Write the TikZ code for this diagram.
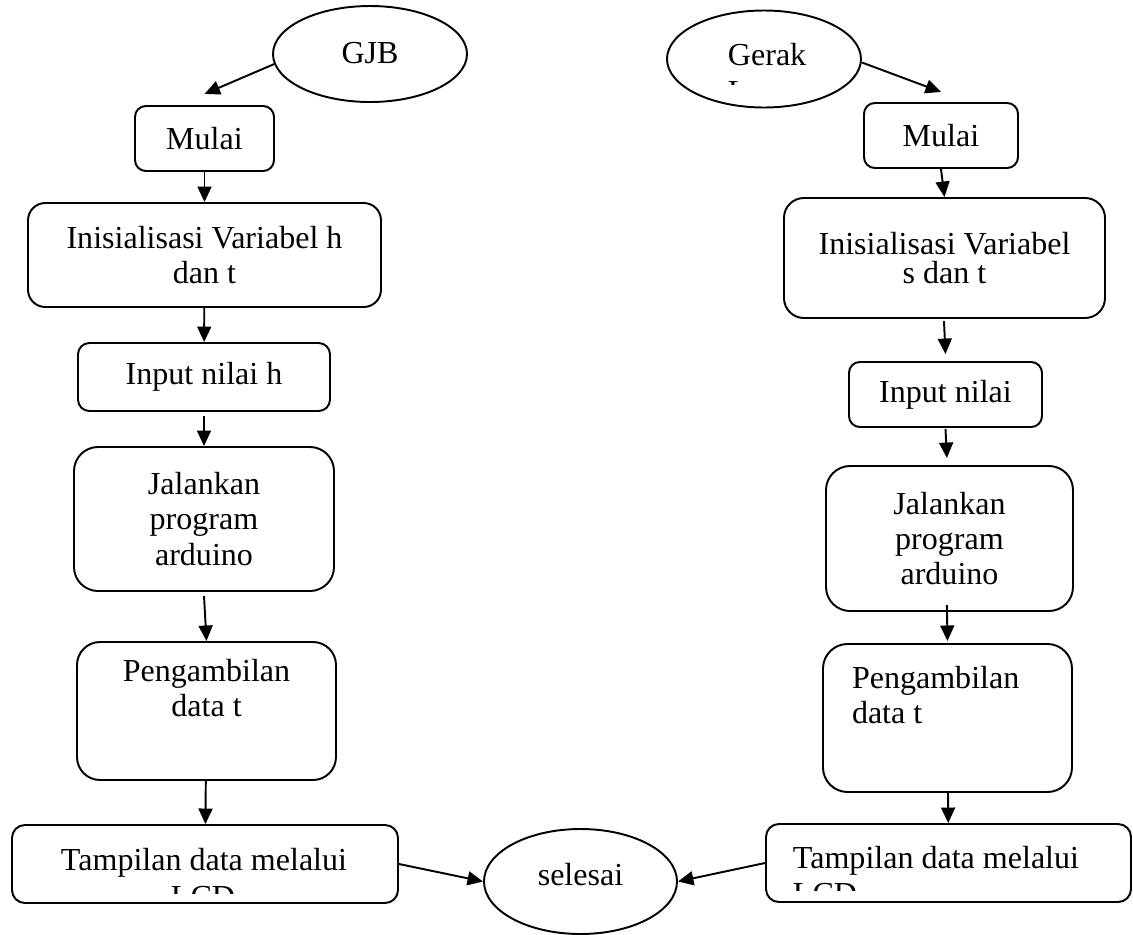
\documentclass[tikz,border=0pt]{standalone}
\usepackage{fontspec}
\setmainfont{Liberation Serif}
\usetikzlibrary{shapes.geometric, arrows.meta, positioning}

\newcommand{\pxu}{0.387pt}

\begin{document}
\begin{tikzpicture}[
    x=\pxu, y=-\pxu,
    font=\fontsize{12.4}{13.6}\selectfont,
    line width=0.75pt,
    boxsize/.style 2 args={minimum width=#1*\pxu, minimum height=#2*\pxu},
    proses/.style={draw, rectangle, rounded corners=#1, inner sep=0pt, align=center},
    proses/.default=4.2pt,
    terminal/.style={draw, ellipse, inner sep=0pt},
    teks/.style={inner sep=0pt, anchor=base west},
    arrow/.style={-{Triangle[length=6pt, width=5.4pt]}}
]
\useasboundingbox (0,0) rectangle (1133,935);

% left chart (GJB)
\node (gjb) [terminal, boxsize={194}{96}, text height=8pt, text depth=1pt] at (370,54) {GJB};
\node (mulaiL) [proses, boxsize={139}{65}] at (204.5,138.5) {Mulai};
\node (initL) [proses=6.7pt, boxsize={353}{104}] at (204.5,255) {Inisialisasi Variabel h\\dan t};
\node (inputL) [proses=4.4pt, boxsize={252}{68}] at (204,377) {Input nilai h};
\node (jalanL) [proses=9.3pt, boxsize={260}{144}] at (204,519) {Jalankan\\program\\arduino};
\node (ambilL) [proses=8.9pt, boxsize={259}{138}] at (206.5,711) {Pengambilan\\data t\\\strut};
\node (tampilL) [proses=5pt, boxsize={386}{78}] at (205,864) {};
\node (tampilLtxt) [teks, anchor=base] at (204,870) {Tampilan data melalui};
\begin{scope}
  \clip (20,830) rectangle (390,893);
  \node (lcdL) [teks, anchor=base] at (203,907.5) {LCD};
\end{scope}

% right chart (gerak)
\node (gerak) [terminal, boxsize={194}{97}] at (764,59) {};
\node (gerakTxt) [teks] at (727,65) {Gerak};
\begin{scope}
  \clip (700,20) rectangle (840,84.5);
  \node (lurusTxt) [teks] at (727,102.5) {Lurus};
\end{scope}
\node (mulaiR) [proses, boxsize={154}{65}] at (941,135.5) {Mulai};
\node (initR) [proses=7.7pt, boxsize={321}{120}, font=\fontsize{12.4}{11.2}\selectfont] at (944.5,258) {Inisialisasi Variabel\\s dan t};
\node (inputR) [proses, boxsize={193}{65}] at (945.5,394.5) {Input nilai};
\node (jalanR) [proses=9.3pt, boxsize={247}{145}] at (949.5,538.5) {Jalankan\\program\\arduino};
\node (ambilR) [proses=9.5pt, boxsize={249}{148}, align=flush left, text width=191*\pxu] at (947.5,718) {Pengambilan\\data t\\\strut};
\node (tampilR) [proses=5pt, boxsize={365}{78}] at (948.5,863) {};
\node (tampilRtxt) [teks] at (792,868) {Tampilan data melalui};
\begin{scope}
  \clip (775,830) rectangle (1120,890);
  \node (lcdR) [teks] at (792,904.5) {LCD};
\end{scope}

% end
\node (selesai) [terminal, boxsize={193}{105}, text height=8pt, text depth=5pt] at (580.5,881.5) {selesai};

% connectors, left
\draw[arrow] (gjb.186) -- ([yshift=4.3pt]mulaiL.north);
\draw[arrow] (mulaiL) -- (initL);
\draw[arrow] (initL) -- (inputL);
\draw[arrow] ([yshift=-1.5pt]inputL.south) -- (jalanL.north);
\draw[arrow] ([yshift=-1.5pt]jalanL.south) -- (ambilL.north);
\draw[arrow] (ambilL) -- (tampilL);
\draw[arrow] (tampilL.east) -- (selesai.west);

% connectors, right
\draw[arrow] (gerak.358) -- ([yshift=3.9pt]mulaiR.north);
\draw[arrow] (mulaiR.south) -- (initR.north);
\draw[arrow] ([xshift=-0.2pt, yshift=-0.8pt]initR.south) -- ([yshift=2.7pt]inputR.north);
\draw[arrow] ([yshift=-0.4pt]inputR.south) -- ([xshift=-1pt, yshift=2.7pt]jalanR.north);
\draw[arrow] ([xshift=-1pt, yshift=2.7pt]jalanR.south) -- ([yshift=0.8pt]ambilR.north);
\draw[arrow] (ambilR) -- (tampilR);
\draw[arrow] (tampilR.west) -- (selesai.east);

\end{tikzpicture}
\end{document}
